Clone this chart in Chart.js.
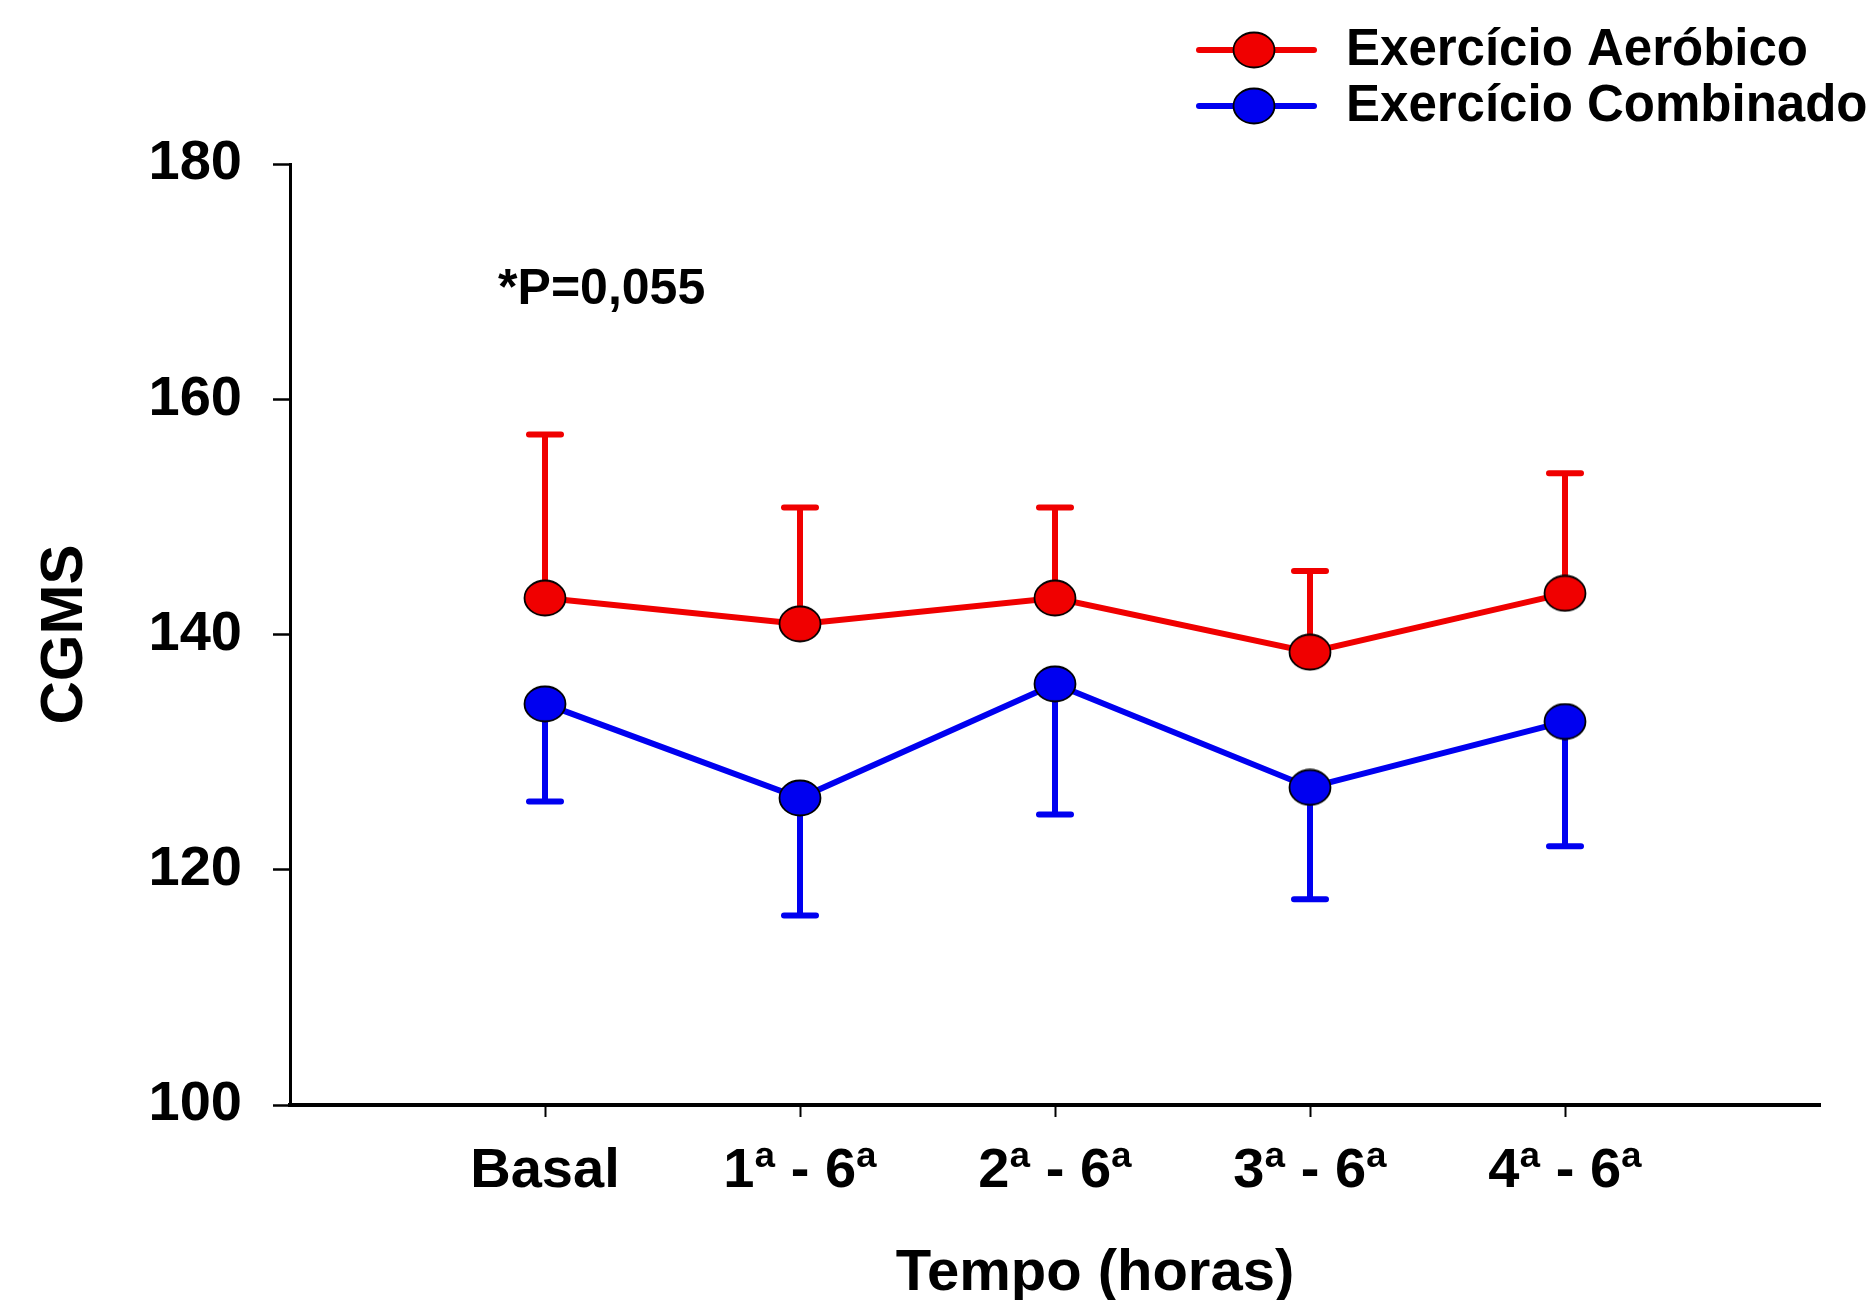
<!DOCTYPE html>
<html><head><meta charset="utf-8">
<script src="https://cdn.jsdelivr.net/npm/chart.js@4.4.0/dist/chart.umd.min.js"></script>
<style>html,body{margin:0;padding:0;background:#fff;}canvas{display:block;}</style>
</head><body>
<canvas id="c" width="1871" height="1300"></canvas>
<script>
// ---- data ----
const categories = ['Basal', '1ª - 6ª', '2ª - 6ª', '3ª - 6ª', '4ª - 6ª'];
const aerobicMean = [143.1, 140.9, 143.1, 138.5, 143.5];
const aerobicSD = [13.9, 9.9, 7.7, 6.9, 10.2];
const combinedMean = [134.1, 126.1, 135.8, 127.0, 132.6];
const combinedSD = [8.3, 10.0, 11.1, 9.5, 10.6];
const yTicks = [100, 120, 140, 160, 180];
const seriesNames = ['Exercício Aeróbico', 'Exercício Combinado'];
const annotationText = '*P=0,055';
const xTitle = 'Tempo (horas)';
const yTitle = 'CGMS';

// ---- styles ----
const FONT = "'Liberation Sans', Arial, sans-serif";
const RED = '#f00000';
const BLUE = '#0000f0';

function makeMarker(color) {
  const c = document.createElement('canvas');
  c.width = 44; c.height = 38;
  const g = c.getContext('2d');
  g.beginPath();
  g.ellipse(22, 19, 20.5, 17.5, 0, 0, Math.PI * 2);
  g.fillStyle = color; g.fill();
  g.lineWidth = 1.8; g.strokeStyle = '#000'; g.stroke();
  return c;
}
const redMarker = makeMarker(RED);
const blueMarker = makeMarker(BLUE);

const errorBarPlugin = {
  id: 'errorBars',
  beforeDatasetsDraw(chart) {
    const ctx = chart.ctx;
    const ys = chart.scales.y;
    chart.data.datasets.forEach((ds, i) => {
      const meta = chart.getDatasetMeta(i);
      ctx.save();
      ctx.strokeStyle = ds.borderColor;
      ctx.lineWidth = 6;
      ctx.lineCap = 'round';
      meta.data.forEach((pt, j) => {
        const m = ds.data[j].y;
        const end = m + ds.errDir * ds.errors[j];
        const y0 = ys.getPixelForValue(m);
        const y1 = ys.getPixelForValue(end);
        ctx.beginPath();
        ctx.moveTo(pt.x, y0); ctx.lineTo(pt.x, y1);
        ctx.moveTo(pt.x - 16, y1); ctx.lineTo(pt.x + 16, y1);
        ctx.stroke();
      });
      ctx.restore();
    });
  }
};

const overlayPlugin = {
  id: 'overlay',
  afterDraw(chart) {
    const ctx = chart.ctx;
    const xs = chart.scales.x, ys = chart.scales.y;
    const area = chart.chartArea;
    ctx.save();
    ctx.fillStyle = '#000';
    // annotation
    ctx.font = 'bold 50px ' + FONT;
    ctx.textAlign = 'left';
    ctx.textBaseline = 'middle';
    ctx.fillText(annotationText, xs.getPixelForValue(0.816), ys.getPixelForValue(169.3));
    // x-axis title
    ctx.font = 'bold 58px ' + FONT;
    ctx.textAlign = 'center';
    ctx.textBaseline = 'alphabetic';
    ctx.fillText(xTitle, (area.left + area.right) / 2 + 40, 1290);
    // legend
    const rows = [50, 106];
    const markers = [redMarker, blueMarker];
    const colors = [RED, BLUE];
    ctx.font = 'bold 51px ' + FONT;
    ctx.textAlign = 'left';
    ctx.textBaseline = 'middle';
    rows.forEach((y, i) => {
      ctx.strokeStyle = colors[i];
      ctx.lineWidth = 6;
      ctx.lineCap = 'round';
      ctx.beginPath(); ctx.moveTo(1199, y); ctx.lineTo(1314, y); ctx.stroke();
      ctx.drawImage(markers[i], 1254 - 22, y - 19);
      ctx.fillStyle = '#000';
      ctx.fillText(seriesNames[i], 1346, y + 1);
    });
    ctx.restore();
  }
};

const tickFont = { family: FONT, weight: 'bold', size: 56 };

new Chart(document.getElementById('c'), {
  type: 'line',
  data: {
    datasets: [
      { label: seriesNames[0], data: categories.map((c, i) => ({ x: i + 1, y: aerobicMean[i] })),
        borderColor: RED, backgroundColor: RED, borderWidth: 6, pointStyle: redMarker, pointRadius: 20,
        tension: 0, errors: aerobicSD, errDir: 1 },
      { label: seriesNames[1], data: categories.map((c, i) => ({ x: i + 1, y: combinedMean[i] })),
        borderColor: BLUE, backgroundColor: BLUE, borderWidth: 6, pointStyle: blueMarker, pointRadius: 20,
        tension: 0, errors: combinedSD, errDir: -1 }
    ]
  },
  options: {
    responsive: false, animation: false, devicePixelRatio: 1,
    layout: { padding: { top: 164, right: 51, left: 0, bottom: 0 } },
    plugins: { legend: { display: false }, tooltip: { enabled: false } },
    scales: {
      x: {
        type: 'linear', min: 0, max: 6, position: 'bottom',
        afterBuildTicks: s => { s.ticks = categories.map((c, i) => ({ value: i + 1 })); },
        afterFit: s => { s.height = 195; },
        ticks: { callback: (v, idx) => categories[idx], font: tickFont, color: '#000', padding: 21, maxRotation: 0, autoSkip: false },
        grid: { display: true, drawOnChartArea: false, drawTicks: true, tickLength: 12, tickWidth: 2, tickColor: '#000' },
        border: { display: true, color: '#000', width: 4 },
        title: { display: false, text: xTitle }
      },
      y: {
        type: 'linear', min: 100, max: 180,
        afterBuildTicks: s => { s.ticks = yTicks.map(v => ({ value: v })); },
        afterFit: s => { s.width = 290; },
        ticks: { font: tickFont, color: '#000', padding: 31 },
        grid: { display: true, drawOnChartArea: false, drawTicks: true, tickLength: 17, tickWidth: 2.5, tickColor: '#000' },
        border: { display: true, color: '#000', width: 3 },
        title: { display: true, text: yTitle, color: '#000', font: { family: FONT, weight: 'bold', size: 60, lineHeight: 1.2 }, padding: { top: 29, bottom: 0 } }
      }
    }
  },
  plugins: [errorBarPlugin, overlayPlugin]
});
</script>
</body></html>
